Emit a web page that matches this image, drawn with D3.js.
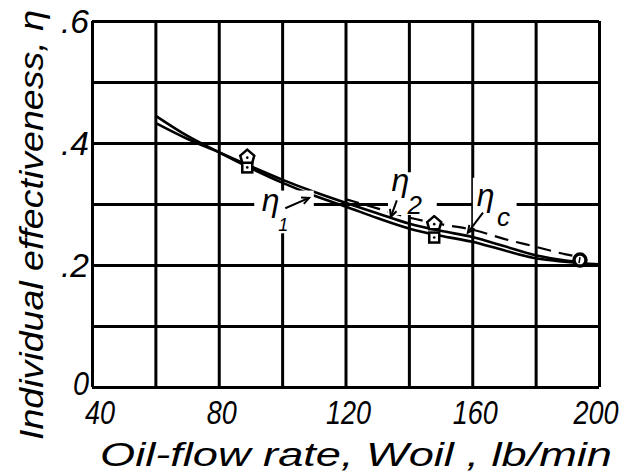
<!DOCTYPE html>
<html lang="en">
<head>
<meta charset="UTF-8">
<title>Individual effectiveness vs oil-flow rate</title>
<script src="https://cdn.jsdelivr.net/npm/d3@7"></script>
<style>
  body { margin: 0; background: #fff; }
  svg text { font-family: "Liberation Sans", "DejaVu Sans", sans-serif; font-style: italic; fill: #000; }
</style>
</head>
<body>
<svg id="chart" width="628" height="475"></svg>
<script>
// grid / ticks
var xGrid = [40, 60, 80, 100, 120, 140, 160, 180, 200];
var yGrid = [0, 0.1, 0.2, 0.3, 0.4, 0.5, 0.6];
var xTickVals = [40, 80, 120, 160, 200];
var xTickLabels = ["40", "80", "120", "160", "200"];
var yTickVals = [0, 0.2, 0.4, 0.6];
var yTickLabels = ["0", ".2", ".4", ".6"];

// curves
var eta1X = [60, 70, 80, 90, 100, 110, 120, 130, 140, 150, 160, 170, 180, 190, 200];
var eta1Y = [0.445, 0.412, 0.385, 0.359, 0.335, 0.314, 0.296, 0.277, 0.260, 0.248, 0.238, 0.224, 0.211, 0.205, 0.201];
var eta2X = [60, 70, 80, 90, 100, 110, 120, 130, 140, 150, 160, 170, 180, 190, 194];
var eta2Y = [0.433, 0.407, 0.385, 0.362, 0.340, 0.320, 0.302, 0.285, 0.268, 0.256, 0.246, 0.231, 0.216, 0.207, 0.205];
var etaCX = [120, 130, 140, 150, 160, 170, 180, 190, 194];
var etaCY = [0.303, 0.288, 0.273, 0.262, 0.253, 0.238, 0.225, 0.212, 0.208];

// data points
var pentX = [89, 148];
var pentY = [0.376, 0.267];
var squareX = [89, 148];
var squareY = [0.360, 0.245];
var circleX = [194];
var circleY = [0.208];

var svg = d3.select("#chart"),
    margin = { top: 21, right: 29, bottom: 88, left: 92 },
    width = +svg.attr("width") - margin.left - margin.right,
    height = +svg.attr("height") - margin.top - margin.bottom;

var x = d3.scaleLinear().domain([40, 200]).range([margin.left, margin.left + width]);
var y = d3.scaleLinear().domain([0, 0.6]).range([margin.top + height, margin.top]);

// grid drawn with axes
svg.append("g")
    .attr("transform", "translate(0," + (margin.top + height) + ")")
    .call(d3.axisBottom(x).tickValues(xGrid).tickSize(-height).tickFormat(""))
    .call(function (g) { g.select(".domain").remove(); })
    .selectAll("line").attr("stroke", "#000").attr("stroke-width", 3);

svg.append("g")
    .attr("transform", "translate(" + margin.left + ",0)")
    .call(d3.axisLeft(y).tickValues(yGrid).tickSize(-width).tickFormat(""))
    .call(function (g) { g.select(".domain").remove(); })
    .selectAll("line").attr("stroke", "#000").attr("stroke-width", 3);

// tick labels
svg.selectAll(".xlab")
    .data(xTickVals)
    .enter().append("text")
    .attr("x", function (d) { return x(d) + (d === 200 ? -3 : d === 40 ? 8 : 3); })
    .attr("y", 424)
    .attr("text-anchor", "middle")
    .attr("font-size", 33)
    .attr("textLength", function (d, i) { return xTickLabels[i].length * 15; })
    .attr("lengthAdjust", "spacingAndGlyphs")
    .text(function (d, i) { return xTickLabels[i]; });

svg.selectAll(".ylab")
    .data(yTickVals)
    .enter().append("text")
    .attr("x", function (d) { return margin.left - 3; })
    .attr("y", function (d) { return y(d) + (d === 0 ? 8 : 12); })
    .attr("text-anchor", "end")
    .attr("font-size", 33)
    .attr("textLength", function (d, i) { return yTickLabels[i].length > 1 ? 28 : 16; })
    .attr("lengthAdjust", "spacingAndGlyphs")
    .text(function (d, i) { return yTickLabels[i]; });

// axis titles
svg.append("text")
    .attr("x", 100)
    .attr("y", 466)
    .attr("font-size", 33)
    .attr("textLength", 512)
    .attr("lengthAdjust", "spacingAndGlyphs")
    .text("Oil-flow rate, Woil , lb/min");

svg.append("text")
    .attr("transform", "translate(43,440) rotate(-90)")
    .attr("font-size", 33)
    .attr("textLength", 430)
    .attr("lengthAdjust", "spacingAndGlyphs")
    .text("Individual effectiveness, η");

// curves
var line = d3.line()
    .x(function (d) { return x(d[0]); })
    .y(function (d) { return y(d[1]); })
    .curve(d3.curveMonotoneX);

function pairs(xs, ys) { return xs.map(function (v, i) { return [v, ys[i]]; }); }

svg.append("path")
    .datum(pairs(etaCX, etaCY))
    .attr("fill", "none").attr("stroke", "#000").attr("stroke-width", 2.2)
    .attr("stroke-dasharray", "14,8")
    .attr("transform", "translate(0,-3)")
    .attr("d", line);

svg.append("path")
    .datum(pairs(eta1X, eta1Y))
    .attr("fill", "none").attr("stroke", "#000").attr("stroke-width", 2.6)
    .attr("d", line);

svg.append("path")
    .datum(pairs(eta2X, eta2Y))
    .attr("fill", "none").attr("stroke", "#000").attr("stroke-width", 2.6)
    .attr("d", line);

// markers
var pent = "M0,-8 L7,-2 L5,5 L-5,5 L-7,-2 Z";
svg.selectAll(".sq")
    .data(squareX)
    .enter().append("rect")
    .attr("x", function (d) { return x(d) - 5; })
    .attr("y", function (d, i) { return y(squareY[i]) - 5; })
    .attr("width", 10).attr("height", 10)
    .attr("fill", "#fff").attr("stroke", "#000").attr("stroke-width", 2.5);

svg.selectAll(".pent")
    .data(pentX)
    .enter().append("path")
    .attr("d", pent)
    .attr("transform", function (d, i) { return "translate(" + x(d) + "," + y(pentY[i]) + ")"; })
    .attr("fill", "#fff").attr("stroke", "#000").attr("stroke-width", 2.5);

svg.selectAll(".dot")
    .data(pentX.concat(squareX))
    .enter().append("circle")
    .attr("cx", function (d) { return x(d); })
    .attr("cy", function (d, i) { return y(pentY.concat(squareY)[i]); })
    .attr("r", 1.3).attr("fill", "#000");

svg.selectAll(".circ")
    .data(circleX)
    .enter().append("circle")
    .attr("cx", function (d) { return x(d); })
    .attr("cy", function (d, i) { return y(circleY[i]); })
    .attr("r", 6).attr("fill", "#fff").attr("stroke", "#000").attr("stroke-width", 3.5);

svg.selectAll(".circdot")
    .data(circleX)
    .enter().append("line")
    .attr("x1", function (d) { return x(d); }).attr("x2", function (d) { return x(d) - 1; })
    .attr("y1", function (d, i) { return y(circleY[i]) - 3; })
    .attr("y2", function (d, i) { return y(circleY[i]) + 3; })
    .attr("stroke", "#000").attr("stroke-width", 1.5);

// curve labels (data units) with white boxes breaking the .3 grid line
var labels = [
    { main: "η", sub: "1", lx: 93.6, ly: 0.289, sx: 98.8, sy: 0.255, box: [91.2, 0.322, 18.8, 0.252],
      ax1: 101, ay1: 0.293, ax2: 108.5, ay2: 0.310 },
    { main: "η", sub: "2", lx: 134.5, ly: 0.322, sx: 139.6, sy: 0.284, box: [133.4, 0.352, 15.4, 0.282],
      ax1: 136.2, ay1: 0.306, ax2: 134.3, ay2: 0.279 },
    { main: "η", sub: "c", lx: 161.4, ly: 0.296, sx: 167.8, sy: 0.264, box: [160.2, 0.343, 13.8, 0.261],
      ax1: 163.4, ay1: 0.286, ax2: 158.6, ay2: 0.253 }
];

svg.selectAll(".lbox")
    .data(labels)
    .enter().append("rect")
    .attr("x", function (d) { return x(d.box[0]); })
    .attr("y", function (d) { return y(d.box[1]); })
    .attr("width", function (d) { return x(d.box[0] + d.box[2]) - x(d.box[0]); })
    .attr("height", function (d) { return y(d.box[3]) - y(d.box[1]); })
    .attr("fill", "#fff");

svg.selectAll(".lmain")
    .data(labels)
    .enter().append("text")
    .attr("x", function (d) { return x(d.lx); })
    .attr("y", function (d) { return y(d.ly); })
    .attr("font-size", 32)
    .text(function (d) { return d.main; });

svg.selectAll(".lsub")
    .data(labels)
    .enter().append("text")
    .attr("x", function (d) { return x(d.sx); })
    .attr("y", function (d) { return y(d.sy); })
    .attr("font-size", function (d, i) { return i === 0 ? 18 : 26; })
    .text(function (d) { return d.sub; });

// arrows
labels.forEach(function (d) {
    var x1 = x(d.ax1), y1 = y(d.ay1), x2 = x(d.ax2), y2 = y(d.ay2);
    var ang = Math.atan2(y2 - y1, x2 - x1), len = 8;
    svg.append("line")
        .attr("x1", x1).attr("y1", y1).attr("x2", x2).attr("y2", y2)
        .attr("stroke", "#000").attr("stroke-width", 2);
    svg.append("path")
        .attr("d", "M" + (x2 - len * Math.cos(ang - 0.45)) + "," + (y2 - len * Math.sin(ang - 0.45)) +
            " L" + x2 + "," + y2 +
            " L" + (x2 - len * Math.cos(ang + 0.45)) + "," + (y2 - len * Math.sin(ang + 0.45)))
        .attr("fill", "none").attr("stroke", "#000").attr("stroke-width", 2);
});
</script>
</body>
</html>
